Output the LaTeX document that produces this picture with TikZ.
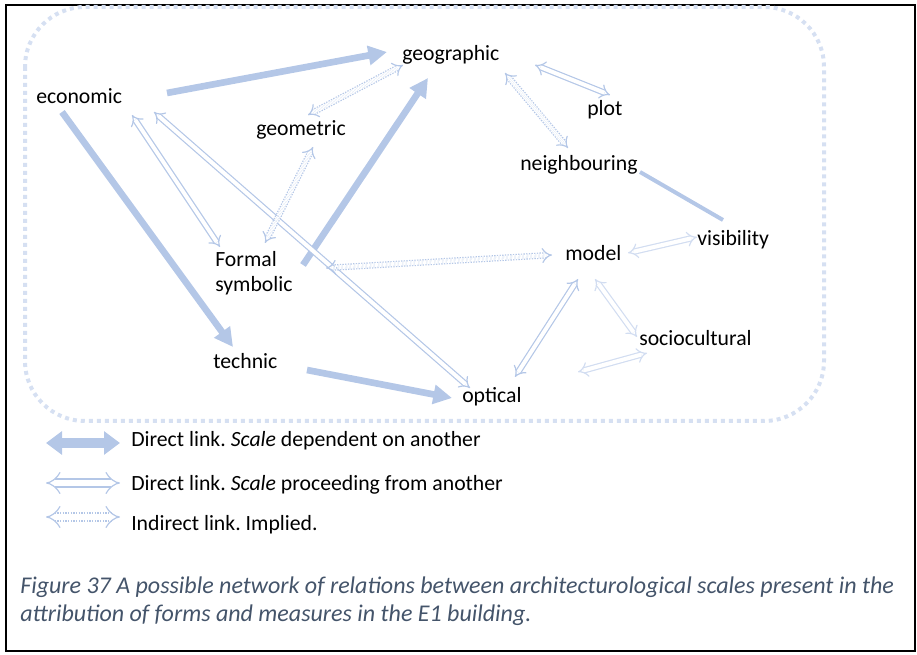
\documentclass[tikz,border=0pt]{standalone}
\usepackage{fontspec}
\setmainfont{Carlito}
\usepackage{tikz}
\usetikzlibrary{arrows.meta}
\frenchspacing

\definecolor{linkblue}{RGB}{180,199,231}
\definecolor{linklight}{RGB}{210,221,241}
\definecolor{framedots}{RGB}{214,224,242}
\definecolor{capblue}{RGB}{68,84,106}

\begin{document}
\begin{tikzpicture}[
    x=0.75pt, y=-0.75pt,
    font=\fontsize{16.3}{18.75}\selectfont,
    lbl/.style={anchor=base west, inner sep=0pt},
    dep/.style={draw=linkblue, line width=5pt, -{Triangle[length=14pt,width=14pt]}},
    tie/.style={draw=linkblue, line width=3pt},
    proc/.style={draw=linkblue, double=white, line width=0.9pt, double distance=3pt, {Implies[length=6pt,width=11pt]}-{Implies[length=6pt,width=11pt]}},
    proclight/.style={proc, draw=linklight},
    impl/.style={proc, dash pattern=on 1pt off 1pt},
    depkey/.style={draw=linkblue, line width=7.5pt, {Triangle[length=12pt,width=17pt]}-{Triangle[length=12pt,width=17pt]}},
    prockey/.style={proc, double distance=5pt}
]
    \useasboundingbox (0,0) rectangle (917,655);

    % Frame and dotted outline
    \draw[line width=1.5pt] (5.5,5.5) rectangle (914.5,651);
    \draw[framedots, line width=3pt, dash pattern=on 3pt off 3pt, rounded corners=45pt] (25,7) rectangle (824,421);

    % Scales
    \node[lbl] (economic) at (36,104) {economic};
    \node[lbl] (geographic) at (402,61) {geographic};
    \node[lbl] (geometric) at (256,136) {geometric};
    \node[lbl] (plot) at (587,116) {plot};
    \node[lbl] (neighbouring) at (520,171) {neighbouring};
    \node[lbl] (visibility) at (697,246) {visibility};
    \node[lbl] (model) at (565,261) {model};
    \node[lbl, anchor=north west, align=left] (formal) at (215,251) {Formal\\symbolic};
    \node[lbl] (sociocultural) at (639,346) {sociocultural};
    \node[lbl] (technic) at (213,369) {technic};
    \node[lbl] (optical) at (462,403) {optical};

    % Dependent links
    \draw[dep] ([shift={(131,-11)}]economic.base west) -- ([shift={(-15,-9)}]geographic.base west);
    \draw[dep] ([shift={(26,8)}]economic.base west) -- ([shift={(20,-22)}]technic.base west);
    \draw[dep] ([shift={(88,14)}]formal.north west) -- ([shift={(26,17)}]geographic.base west);
    \draw[dep] ([shift={(94,1)}]technic.base west) -- ([shift={(-10,-5)}]optical.base west);
    \draw[tie] ([shift={(120,1)}]neighbouring.base west) -- ([shift={(26,-26)}]visibility.base west);

    % Proceeding links
    \draw[proc] ([shift={(96,11)}]economic.base west) -- ([shift={(5,-4)}]formal.north west);
    \draw[proc] ([shift={(118,8)}]economic.base west) -- ([shift={(8,-15)}]optical.base west);
    \draw[proc] ([shift={(133,4)}]geographic.base west) -- ([shift={(23,-21)}]plot.base west);
    \draw[proc] ([shift={(53,-26)}]optical.base west) -- ([shift={(13,18)}]model.base west);
    \draw[proclight] ([shift={(63,-8)}]model.base west) -- ([shift={(0,-9)}]visibility.base west);
    \draw[proclight] ([shift={(30,18)}]model.base west) -- ([shift={(-2,-9)}]sociocultural.base west);
    \draw[proclight] ([shift={(116,-31)}]optical.base west) -- ([shift={(8,7)}]sociocultural.base west);

    % Implied links
    \draw[impl] ([shift={(52,-21)}]geometric.base west) -- ([shift={(1,4)}]geographic.base west);
    \draw[impl] ([shift={(57,11)}]geometric.base west) -- ([shift={(50,-8)}]formal.north west);
    \draw[impl] ([shift={(103,12)}]geographic.base west) -- ([shift={(48,-23)}]neighbouring.base west);
    \draw[impl] ([shift={(111,17)}]formal.north west) -- ([shift={(-13,-6)}]model.base west);

    % Key
    \coordinate (depL) at (46,443);
    \coordinate (depR) at (120,443);
    \coordinate (procL) at (46,483);
    \coordinate (procR) at (120,483);
    \coordinate (implL) at (46,517);
    \coordinate (implR) at (120,517);
    \draw[depkey] (depL) -- (depR);
    \draw[prockey] (procL) -- (procR);
    \draw[prockey, dash pattern=on 1pt off 1pt] (implL) -- (implR);
    \node[lbl] (keydep) at (131,447) {Direct link. \textit{Scale} dependent on another};
    \node[lbl] (keyproc) at (131,490) {Direct link. \textit{Scale} proceeding from another};
    \node[lbl] (keyimpl) at (131,530) {Indirect link. Implied.};

    % Caption
    \node[lbl, anchor=north west, align=left, text=capblue, font=\fontsize{18}{21}\selectfont\itshape] (caption) at (20,577)
        {Figure 37 A possible network of relations between architecturological scales present in the\\attribution of forms and measures in the E1 building.};
\end{tikzpicture}
\end{document}
